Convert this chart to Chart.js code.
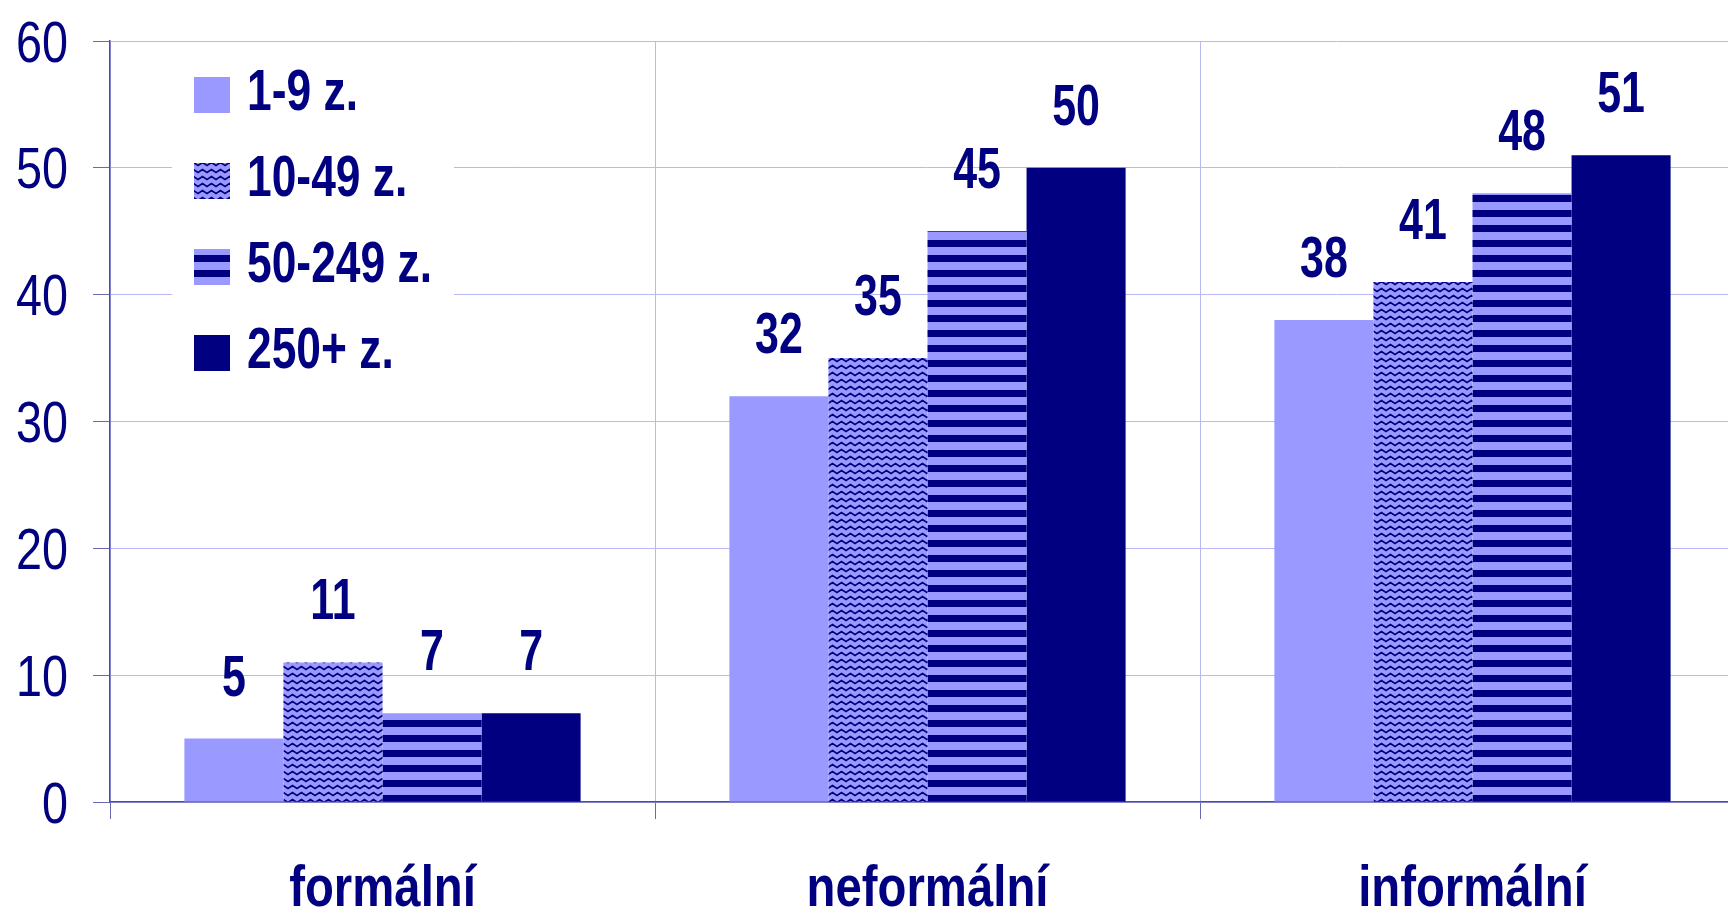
<!DOCTYPE html>
<html>
<head>
<meta charset="utf-8">
<script src="https://cdn.jsdelivr.net/npm/chart.js@4.4.1/dist/chart.umd.min.js"></script>
<style>
  html, body { margin: 0; padding: 0; background: #fff; overflow: hidden; }
  #wrap { width: 1760px; height: 909px; position: relative; }
</style>
</head>
<body>
<div id="wrap"><canvas id="chart"></canvas></div>
<script>
// Chart data
const categories = ['formální', 'neformální', 'informální'];
const seriesLabels = ['1-9 z.', '10-49 z.', '50-249 z.', '250+ z.'];
const small = [5, 32, 38];      // 1-9 z.
const medium = [11, 35, 41];    // 10-49 z.
const large = [7, 45, 48];      // 50-249 z.
const huge = [7, 50, 51];       // 250+ z.
const yMin = 0, yMax = 60, yStep = 10;

const NAVY = '#000080';
const LIGHT = '#9999FF';
const FONT = "'Liberation Sans', Arial, sans-serif";

// Fill patterns
function wavePattern() {
    const c = document.createElement('canvas');
    c.width = 9; c.height = 7;
    const g = c.getContext('2d');
    g.fillStyle = LIGHT;
    g.fillRect(0, 0, 9, 7);
    g.strokeStyle = NAVY;
    g.lineWidth = 1.6;
    g.beginPath();
    g.moveTo(-2.25, 1.5);
    g.lineTo(0, 4.5);
    g.lineTo(4.5, 1.5);
    g.lineTo(9, 4.5);
    g.lineTo(11.25, 1.5);
    g.stroke();
    return g.createPattern(c, 'repeat');
}

function stripePattern() {
    const c = document.createElement('canvas');
    c.width = 4; c.height = 15;
    const g = c.getContext('2d');
    g.fillStyle = LIGHT;
    g.fillRect(0, 0, 4, 15);
    g.fillStyle = NAVY;
    g.fillRect(0, 0, 4, 7);
    return g.createPattern(c, 'repeat');
}

const fills = [LIGHT, wavePattern(), stripePattern(), NAVY];
const values = [small, medium, large, huge];

// squeezed text, like Arial Narrow
function narrowText(ctx, text, x, y, align, sx) {
    ctx.save();
    ctx.translate(x, y);
    ctx.scale(sx, 1);
    ctx.textAlign = align;
    ctx.fillText(text, 0, 0);
    ctx.restore();
}

// Axis labels, value labels and legend box
const textLayer = {
    id: 'textLayer',
    afterDraw(chart) {
        const ctx = chart.ctx;
        const xs = chart.scales.x, ys = chart.scales.y;
        ctx.save();
        ctx.fillStyle = NAVY;
        ctx.textBaseline = 'alphabetic';

        // y tick labels
        ctx.font = '57px ' + FONT;
        ys.ticks.forEach(t => {
            narrowText(ctx, String(t.value), 68, ys.getPixelForValue(t.value) + 20.5, 'right', 0.82);
        });

        // category labels
        ctx.font = 'bold 57px ' + FONT;
        chart.data.labels.forEach((lab, i) => {
            narrowText(ctx, lab, xs.getPixelForValue(i), 906, 'center', 0.83);
        });

        // value labels
        ctx.font = 'bold 58px ' + FONT;
        chart.data.datasets.forEach((ds, i) => {
            chart.getDatasetMeta(i).data.forEach((bar, j) => {
                narrowText(ctx, String(ds.data[j]), bar.x, bar.y - 43, 'center', 0.74);
            });
        });

        // legend
        ctx.fillStyle = '#fff';
        ctx.fillRect(172, 52, 282, 348);
        chart.data.datasets.forEach((ds, i) => {
            const top = 77 + i * 86;
            ctx.fillStyle = ds.backgroundColor;
            ctx.fillRect(194, top, 36, 36);
            ctx.fillStyle = NAVY;
            narrowText(ctx, ds.label, 247, top + 33, 'left', 0.765);
        });
        ctx.restore();
    }
};

const chart = new Chart(document.getElementById('chart'), {
    type: 'bar',
    data: {
        labels: categories,
        datasets: seriesLabels.map((label, i) => ({
            label: label,
            data: values[i],
            backgroundColor: fills[i],
            borderWidth: 0,
            barPercentage: 1,
            categoryPercentage: 0.727
        }))
    },
    options: {
        responsive: true,
        maintainAspectRatio: false,
        animation: false,
        layout: { padding: { top: 41, right: 15, bottom: 0, left: 0 } },
        plugins: {
            legend: { display: false },
            tooltip: { enabled: false }
        },
        scales: {
            x: {
                grid: {
                    color: '#b8b8f2',
                    tickColor: '#6a6ab0',
                    tickLength: 17,
                    offset: true
                },
                border: { color: '#4d4da6', width: 1.5 },
                ticks: { display: false },
                afterFit(scale) { scale.height = 107; }
            },
            y: {
                min: yMin,
                max: yMax,
                grid: {
                    color: '#b8b8f2',
                    tickColor: '#6a6ab0',
                    tickLength: 17
                },
                border: { color: '#4d4da6', width: 1.5 },
                ticks: { display: false, stepSize: yStep },
                afterFit(scale) { scale.width = 110; }
            }
        }
    },
    plugins: [textLayer]
});
</script>
</body>
</html>
